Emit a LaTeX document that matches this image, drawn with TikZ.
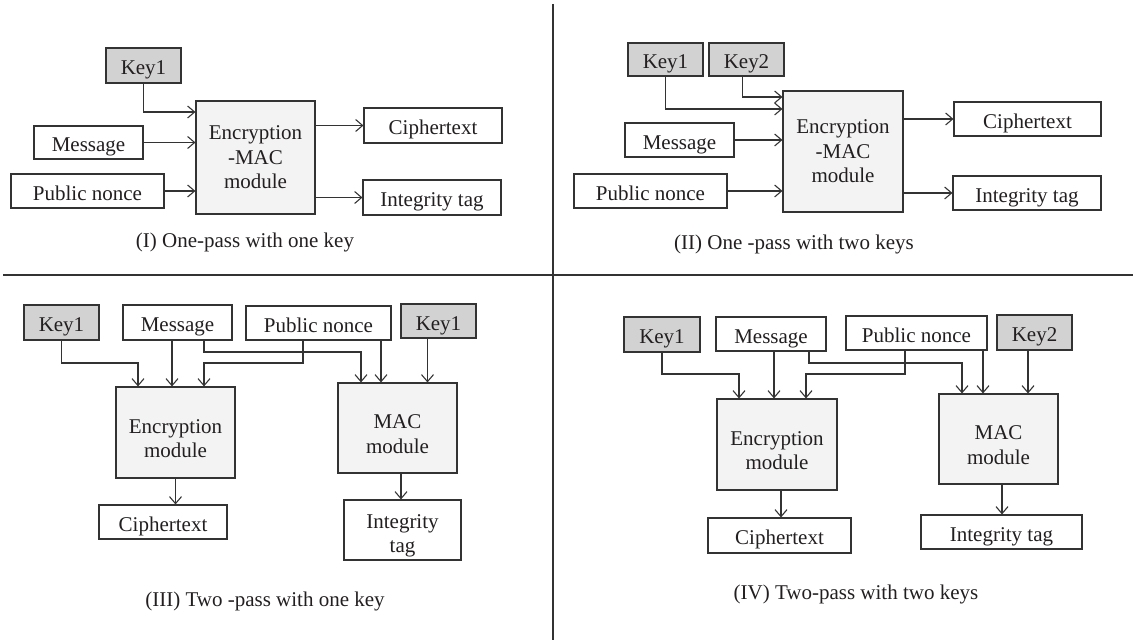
\documentclass[tikz,border=0pt]{standalone}
\usepackage{fontspec}
\setmainfont{Liberation Serif}
\usetikzlibrary{arrows.meta}
\definecolor{ln}{HTML}{333333}
\definecolor{txt}{HTML}{231F20}
\definecolor{keygray}{HTML}{D2D2D2}
\definecolor{modgray}{HTML}{F3F3F3}
\begin{document}
\begin{tikzpicture}[x=1pt,y=-1pt,
  every node/.style={font=\fontsize{21}{24.5}\selectfont, text=txt},
  wh/.style 2 args={minimum width=#1pt, minimum height=#2pt},
  frame/.style={draw=ln, line width=1.1pt, fill=white, inner sep=0pt, align=center},
  box/.style={frame, text height=20pt, text depth=1.5pt},
  keybox/.style={box, fill=keygray},
  modbox/.style={frame, fill=modgray},
  lowtext/.style={align=center, yshift=-6pt},
  arr/.style={draw=ln, line width=1.1pt, -{Straight Barb[length=7pt,width=12pt]}},
  rule/.style={draw=ln, line width=1.2pt}
]
\useasboundingbox (0,0) rectangle (1133,644);

% quadrant separators
\coordinate (hl) at (3,275);   \coordinate (hr) at (1133,275);
\coordinate (vt) at (553,4);   \coordinate (vb) at (553,640);
\draw[rule] (hl) -- (hr);
\draw[rule] (vt) -- (vb);

% ---------- (I) one-pass, one key ----------
\node[keybox, wh={75}{35}]  (a1k)  at (143.5,65.5) {Key1};
\node[box, wh={109}{33}]    (a1m)  at (88.5,142.5) {Message};
\node[box, wh={153}{34}]    (a1p)  at (87.5,191)   {Public nonce};
\node[modbox, wh={119}{113}](a1em) at (255.5,157.5) {Encryption\\-MAC\\module};
\node[box, wh={138}{35}]    (a1c)  at (433,125.5)  {Ciphertext};
\node[box, wh={138}{35}]    (a1t)  at (432,197.5)  {Integrity tag};
\node (a1cap) at (245,242) {(I) One-pass with one key};
\coordinate (a1ky) at (0,112);
\draw[arr] (a1k.south) |- (a1em.west |- a1ky);
\draw[arr] (a1m.east) -- (a1m.east -| a1em.west);
\draw[arr] (a1p.east) -- (a1p.east -| a1em.west);
\draw[arr] (a1em.east |- a1c.west) -- (a1c.west);
\draw[arr] (a1em.east |- a1t.west) -- (a1t.west);

% ---------- (II) one-pass, two keys ----------
\node[keybox, wh={75}{33}]  (a2k1) at (665.5,59.5) {Key1};
\node[keybox, wh={75}{33}]  (a2k2) at (746.5,59.5) {Key2};
\node[box, wh={109}{34}]    (a2m)  at (679.5,140)  {Message};
\node[box, wh={153}{34}]    (a2p)  at (650.5,191)  {Public nonce};
\node[modbox, wh={120}{121}](a2em) at (843,151.5)  {Encryption\\-MAC\\module};
\node[box, wh={147}{34}]    (a2c)  at (1027.5,119) {Ciphertext};
\node[box, wh={148}{34}]    (a2t)  at (1027,193)   {Integrity tag};
\node (a2cap) at (794,244) {(II) One -pass with two keys};
\coordinate (a2y1) at (0,109);
\coordinate (a2y2) at (0,97);
\draw[arr] (a2k1.south) |- (a2em.west |- a2y1);
\draw[arr] ([xshift=-4pt]a2k2.south) |- (a2em.west |- a2y2);
\draw[arr] (a2m.east) -- (a2m.east -| a2em.west);
\draw[arr] (a2p.east) -- (a2p.east -| a2em.west);
\draw[arr] (a2em.east |- a2c.west) -- (a2c.west);
\draw[arr] (a2em.east |- a2t.west) -- (a2t.west);

% ---------- (III) two-pass, one key ----------
\node[keybox, wh={75}{35}]  (c3k)  at (61.5,322.5)  {Key1};
\node[box, wh={109}{35}]    (c3m)  at (177.5,322.5) {Message};
\node[box, wh={145}{34}]    (c3p)  at (318.5,323)   {Public nonce};
\node[keybox, wh={75}{34}]  (c3k2) at (438.5,321)   {Key1};
\node[modbox, wh={119}{91}, label={[lowtext]center:Encryption\\module}] (c3e) at (175.5,432.5) {};
\node[modbox, wh={119}{90}, label={[lowtext]center:MAC\\module}]        (c3a) at (397.5,428)   {};
\node[box, wh={128}{34}]    (c3c)  at (163,522)     {Ciphertext};
\node[frame, wh={117}{60}, label={[lowtext]center:Integrity\\tag}]      (c3t) at (402.5,530)   {};
\node (c3cap) at (265,601) {(III) Two -pass with one key};
\coordinate (c3b1) at (138,363);
\coordinate (c3b2) at (204,352);
\coordinate (c3b3) at (361,352);
\coordinate (c3b4) at (303,363);
\coordinate (c3b5) at (204,363);
\coordinate (c3b6) at (381,0);
\draw[arr] (c3k.south) |- (c3b1) -- (c3b1 |- c3e.north);
\draw[arr] ([xshift=-5.5pt]c3m.south) -- ([xshift=-5.5pt]c3m.south |- c3e.north);
\draw[arr] (c3b2 |- c3m.south) -- (c3b2) -- (c3b3) -- (c3b3 |- c3a.north);
\draw[arr] (c3b4 |- c3p.south) -- (c3b4) -- (c3b5) -- (c3b5 |- c3e.north);
\draw[arr] (c3b6 |- c3p.south) -- (c3b6 |- c3a.north);
\draw[arr] ([xshift=-11pt]c3k2.south) -- ([xshift=-11pt]c3k2.south |- c3a.north);
\draw[arr] (c3e.south) -- (c3e.south |- c3c.north);
\draw[arr] ([xshift=3.5pt]c3a.south) -- ([xshift=3.5pt]c3a.south |- c3t.north);

% ---------- (IV) two-pass, two keys ----------
\node[keybox, wh={76}{35}]  (d4k1) at (662,334.5)   {Key1};
\node[box, wh={110}{34}]    (d4m)  at (771,334)     {Message};
\node[box, wh={141}{34}]    (d4p)  at (916.5,333)   {Public nonce};
\node[keybox, wh={75}{35}]  (d4k2) at (1034.5,332.5){Key2};
\node[modbox, wh={120}{91}, label={[lowtext]center:Encryption\\module}] (d4e) at (777,444.5) {};
\node[modbox, wh={119}{90}, label={[lowtext]center:MAC\\module}]        (d4a) at (998.5,439) {};
\node[box, wh={143}{35}]    (d4c)  at (779.5,535.5) {Ciphertext};
\node[box, wh={161}{34}]    (d4t)  at (1001.5,532)  {Integrity tag};
\node (d4cap) at (856,594) {(IV) Two-pass with two keys};
\coordinate (d4b1) at (739,374);
\coordinate (d4b2) at (809,363);
\coordinate (d4b3) at (962,363);
\coordinate (d4b4) at (905,374);
\coordinate (d4b5) at (806,374);
\coordinate (d4b6) at (983,0);
\draw[arr] (d4k1.south) |- (d4b1) -- (d4b1 |- d4e.north);
\draw[arr] ([xshift=3pt]d4m.south) -- ([xshift=3pt]d4m.south |- d4e.north);
\draw[arr] (d4b2 |- d4m.south) -- (d4b2) -- (d4b3) -- (d4b3 |- d4a.north);
\draw[arr] (d4b4 |- d4p.south) -- (d4b4) -- (d4b5) -- (d4b5 |- d4e.north);
\draw[arr] (d4b6 |- d4p.south) -- (d4b6 |- d4a.north);
\draw[arr] ([xshift=-6.5pt]d4k2.south) -- ([xshift=-6.5pt]d4k2.south |- d4a.north);
\draw[arr] ([xshift=4pt]d4e.south) -- ([xshift=4pt]d4e.south |- d4c.north);
\draw[arr] ([xshift=3.5pt]d4a.south) -- ([xshift=3.5pt]d4a.south |- d4t.north);
\end{tikzpicture}
\end{document}
